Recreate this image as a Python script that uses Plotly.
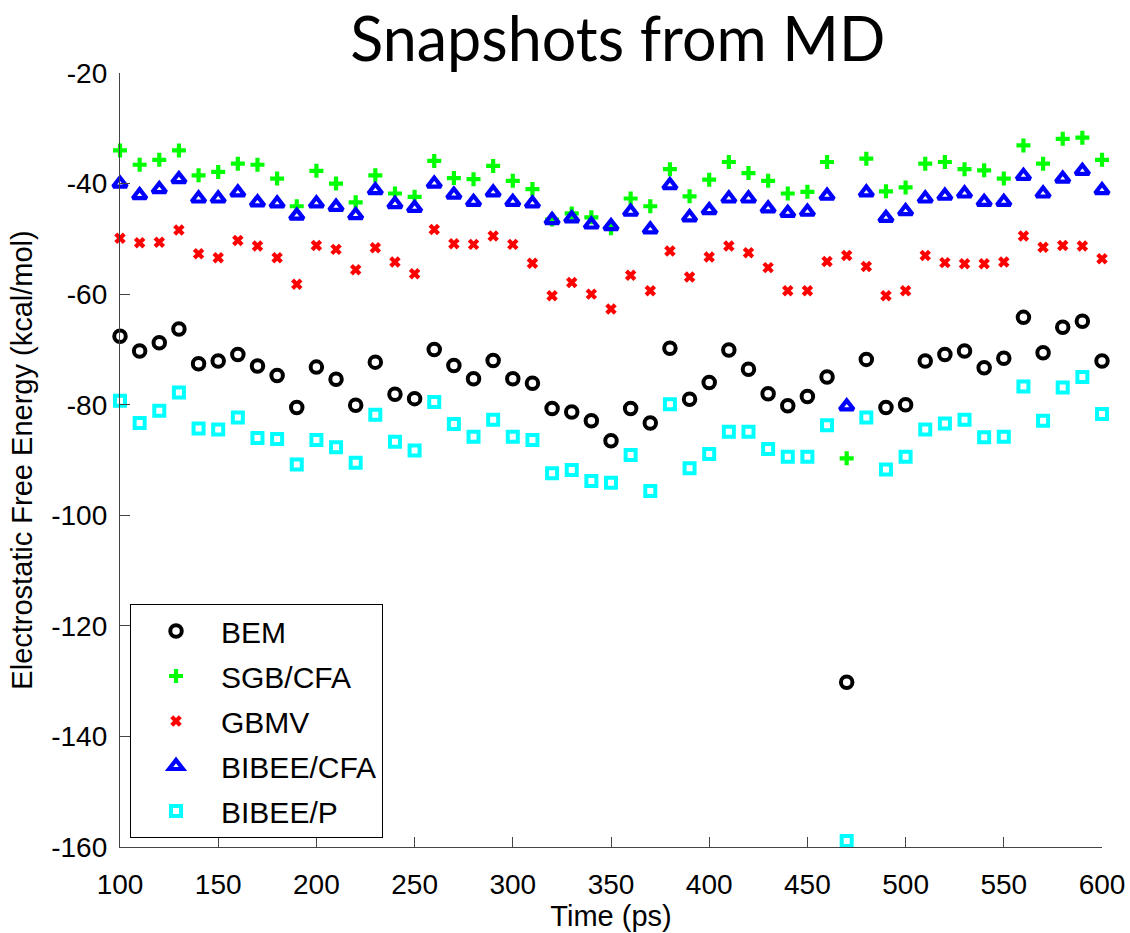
import plotly.graph_objects as go

# Simulation time of each snapshot (ps)
times = [100, 110, 120, 130, 140, 150, 160, 170, 180, 190,
         200, 210, 220, 230, 240, 250, 260, 270, 280, 290,
         300, 310, 320, 330, 340, 350, 360, 370, 380, 390,
         400, 410, 420, 430, 440, 450, 460, 470, 480, 490,
         500, 510, 520, 530, 540, 550, 560, 570, 580, 590,
         600]

# Electrostatic free energies (kcal/mol) per method
bem = [-67.6, -70.3, -68.8, -66.3, -72.6, -72.1, -70.9, -73.0, -74.7, -80.5,
       -73.2, -75.4, -80.1, -72.3, -78.1, -78.9, -70.0, -72.9, -75.3, -72.0,
       -75.3, -76.1, -80.7, -81.3, -82.9, -86.5, -80.7, -83.3, -69.8, -79.0,
       -76.0, -70.1, -73.6, -78.0, -80.2, -78.5, -75.0, -130.2, -71.8, -80.5,
       -80.0, -72.1, -70.9, -70.3, -73.3, -71.6, -64.2, -70.6, -66.0, -64.9,
       -72.1]

sgb_cfa = [-34.0, -36.6, -35.7, -34.0, -38.5, -37.9, -36.4, -36.6, -39.1, -44.1,
           -37.7, -40.0, -43.4, -38.5, -41.8, -42.4, -35.9, -39.0, -39.2, -36.8,
           -39.5, -41.0, -46.5, -45.4, -46.1, -48.1, -42.7, -44.1, -37.4, -42.3,
           -39.3, -36.1, -38.1, -39.5, -41.8, -41.5, -36.1, -89.7, -35.5, -41.4,
           -40.7, -36.4, -36.1, -37.4, -37.6, -39.1, -33.1, -36.4, -31.9, -31.7,
           -35.7]

gbmv = [-49.9, -50.7, -50.6, -48.4, -52.7, -53.4, -50.3, -51.3, -53.4, -58.2,
        -51.2, -51.9, -55.6, -51.6, -54.2, -56.3, -48.3, -50.9, -51.0, -49.5,
        -51.0, -54.4, -60.3, -57.9, -60.0, -62.7, -56.6, -59.4, -52.2, -56.9,
        -53.3, -51.3, -52.5, -55.2, -59.4, -59.4, -54.1, -53.0, -55.0, -60.3,
        -59.4, -53.0, -54.3, -54.5, -54.5, -54.2, -49.5, -51.5, -51.2, -51.3,
        -53.6]

bibee_cfa = [-40.0, -42.1, -41.0, -39.2, -42.7, -42.7, -41.6, -43.4, -43.6, -45.8,
             -43.6, -44.2, -45.7, -41.2, -43.7, -44.4, -40.0, -42.0, -43.3, -41.6,
             -43.3, -43.6, -46.6, -46.3, -47.4, -47.7, -45.1, -48.3, -40.3, -46.1,
             -44.8, -42.7, -42.7, -44.5, -45.3, -45.1, -42.2, -80.3, -41.6, -46.2,
             -45.0, -42.7, -42.2, -41.8, -43.3, -43.3, -38.6, -41.8, -39.1, -37.7,
             -41.2]

bibee_p = [-79.3, -83.3, -81.1, -77.8, -84.3, -84.5, -82.3, -86.0, -86.2, -90.8,
           -86.4, -87.7, -90.5, -81.8, -86.7, -88.3, -79.5, -83.5, -85.8, -82.7,
           -85.8, -86.4, -92.4, -91.8, -93.8, -94.1, -89.1, -95.6, -79.9, -91.5,
           -88.9, -84.9, -84.9, -88.0, -89.4, -89.4, -83.7, -158.9, -82.3, -91.7,
           -89.4, -84.5, -83.4, -82.7, -85.9, -85.8, -76.7, -82.9, -76.9, -75.0,
           -81.7]

x_ticks = [100, 150, 200, 250, 300, 350, 400, 450, 500, 550, 600]
y_ticks = [-160, -140, -120, -100, -80, -60, -40, -20]
y_tick_labels = ["-160", "-140", "-120", "-100", "-80", "-60", "-40", "-20"]

TICK_FONT = dict(family="Liberation Sans, Arial, sans-serif", size=28, color="black")
TITLE_FONT = dict(family="Liberation Sans, Arial, sans-serif", size=29, color="black")

series = [
    ("BEM", bem, dict(symbol="circle-open", size=11.5, color="black",
                      line=dict(color="black", width=4))),
    ("SGB/CFA", sgb_cfa, dict(symbol="cross-thin", size=10,
                              line=dict(color="#00ff00", width=4.2))),
    ("GBMV", gbmv, dict(symbol="x-thin", size=8.5,
                        line=dict(color="#ff0000", width=4.2))),
    ("BIBEE/CFA", bibee_cfa, dict(symbol="triangle-up-open", size=12, color="#0000ff",
                                  line=dict(color="#0000ff", width=4.2))),
    ("BIBEE/P", bibee_p, dict(symbol="square-open", size=10, color="#00ffff",
                              line=dict(color="#00ffff", width=4))),
]

fig = go.Figure()
for name, values, marker in series:
    fig.add_trace(go.Scatter(
        x=times, y=values, name=name, mode="markers",
        marker=marker, cliponaxis=False, legendgroup=name,
    ))

fig.update_layout(
    width=1130, height=933,
    margin=dict(l=120, r=28, t=73, b=86, autoexpand=False),
    paper_bgcolor="white", plot_bgcolor="white",
    title=dict(text="Snapshots from MD", x=0.507, xref="paper", xanchor="center",
               y=1 - 40 / 933, yref="container", yanchor="middle",
               font=dict(family="Lato, Open Sans, sans-serif", size=61, color="black")),
    showlegend=True,
    legend=dict(x=0.0102, y=0.0116, xanchor="left", yanchor="bottom",
                bordercolor="black", borderwidth=1, bgcolor="white",
                font=dict(family="Liberation Sans, Arial, sans-serif", size=30, color="black"),
                itemwidth=80, tracegroupgap=3, itemsizing="trace"),
)

fig.update_xaxes(
    range=[100, 600], tickvals=x_ticks, ticks="inside", ticklen=10, tickcolor="#444",
    showline=True, linecolor="#444", linewidth=1.3, showgrid=False, zeroline=False,
    tickfont=TICK_FONT, ticklabelstandoff=12, automargin=False,
    title=dict(text="Time (ps)", font=TITLE_FONT, standoff=6),
)
fig.update_yaxes(
    range=[-160, -20], tickvals=y_ticks, ticktext=y_tick_labels,
    ticks="inside", ticklen=10, tickcolor="#444",
    showline=True, linecolor="#444", linewidth=1.3, showgrid=False, zeroline=False,
    tickfont=TICK_FONT, ticklabelstandoff=6, automargin=False,
    title=dict(text="Electrostatic Free Energy (kcal/mol)", font=TITLE_FONT, standoff=10),
)

fig.write_html("out.html")
